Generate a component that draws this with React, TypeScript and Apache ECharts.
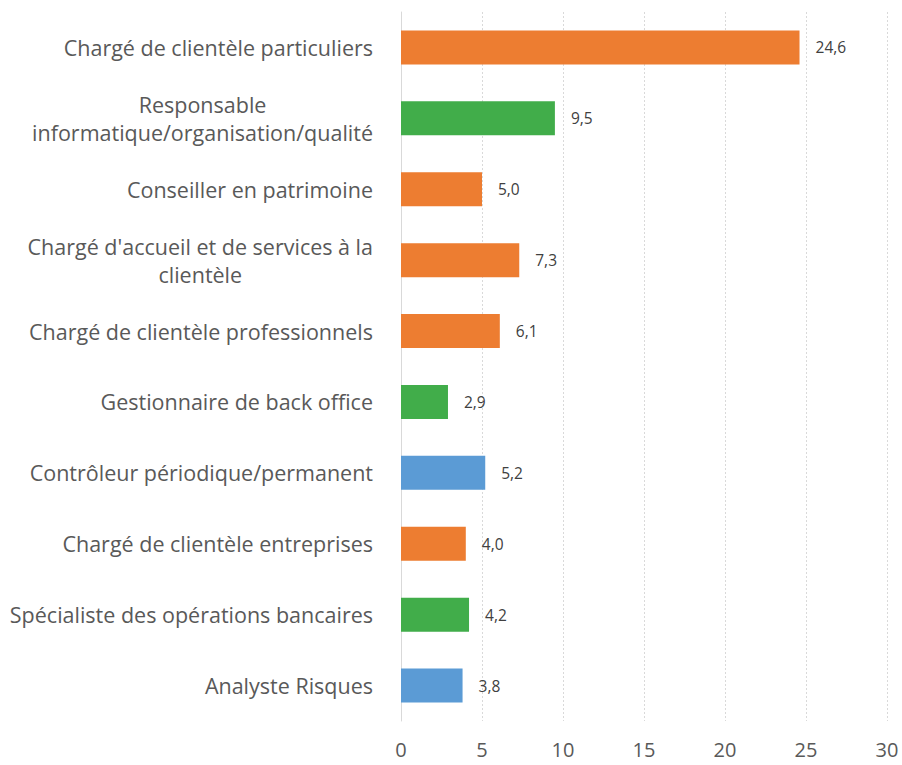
import React, { useEffect, useRef } from "react";
import * as echarts from "echarts";

const categories = [
  "Chargé de clientèle particuliers",
  "Responsable\ninformatique/organisation/qualité",
  "Conseiller en patrimoine",
  "Chargé d'accueil et de services à la\nclientèle",
  "Chargé de clientèle professionnels",
  "Gestionnaire de back office",
  "Contrôleur périodique/permanent",
  "Chargé de clientèle entreprises",
  "Spécialiste des opérations bancaires",
  "Analyste Risques",
];
const values = [24.6, 9.5, 5.0, 7.3, 6.1, 2.9, 5.2, 4.0, 4.2, 3.8];
const groups = ["o", "g", "o", "o", "o", "g", "b", "o", "g", "b"];
const groupColors: Record<string, string> = {
  o: "#ED7D31",
  g: "#41AD4A",
  b: "#5B9BD5",
};
const xTicks = { min: 0, max: 30, interval: 5 };

// wrapped-label lines that are centred in a box of the given width
const centredLines: Record<string, string> = {
  Responsable: "c1",
  "clientèle": "c2",
};

export default function App() {
  const ref = useRef<HTMLDivElement>(null);
  useEffect(() => {
    if (!ref.current) return;
    const chart = echarts.init(ref.current, null, { renderer: "svg" });
    const font = "'Open Sans', 'Noto Sans', sans-serif";
    const base = { fontSize: 21.5, fontFamily: font, color: "#595959", lineHeight: 28 };
    chart.setOption({
      animation: false,
      grid: { left: 401, right: 15, top: 12, bottom: 44, containLabel: false },
      xAxis: {
        type: "value",
        min: xTicks.min,
        max: xTicks.max,
        interval: xTicks.interval,
        axisLine: { show: false },
        axisTick: { show: false },
        axisLabel: {
          color: "#595959",
          fontSize: 20,
          fontFamily: font,
          margin: 18,
        },
        splitLine: {
          show: true,
          lineStyle: { color: "#d9d9d9", type: [2, 2], width: 1 },
        },
      },
      yAxis: {
        type: "category",
        inverse: true,
        data: categories,
        axisLine: { show: true, lineStyle: { color: "#d9d9d9", width: 1 } },
        axisTick: { show: false },
        axisLabel: {
          ...base,
          margin: 28,
          formatter: (v: string) => {
            if (v.indexOf("\n") < 0) return v;
            return v
              .split("\n")
              .map((line) => `{${centredLines[line] || "n"}|${line}}`)
              .join("\n");
          },
          rich: {
            n: { ...base },
            c1: { ...base, width: 312, align: "center" },
            c2: { ...base, width: 320, align: "center" },
          },
        },
      },
      series: [
        {
          type: "bar",
          barWidth: 34,
          data: values.map((v, i) => ({
            value: v,
            itemStyle: { color: groupColors[groups[i]] },
          })),
          label: {
            show: true,
            position: "right",
            distance: 16,
            color: "#404040",
            fontSize: 15.5,
            fontFamily: font,
            formatter: (p: any) => Number(p.value).toFixed(1).replace(".", ","),
          },
        },
      ],
    });
    return () => chart.dispose();
  }, []);
  return (
    <div
      ref={ref}
      style={{ position: "absolute", left: 0, top: 0, width: 902, height: 765 }}
    />
  );
}
